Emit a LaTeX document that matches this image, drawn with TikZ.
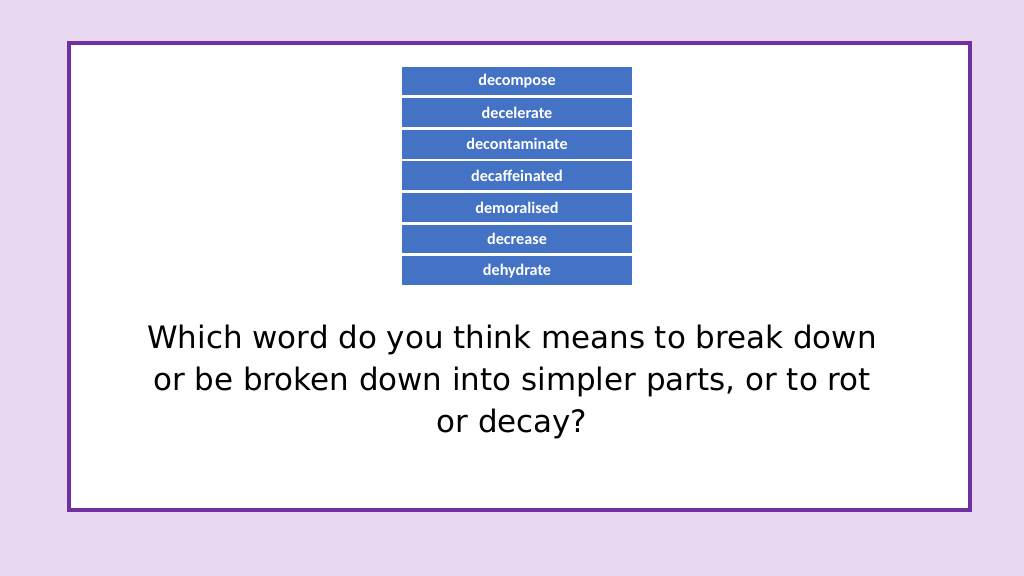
\documentclass[tikz,border=0pt]{standalone}
\usepackage{fontspec}
\setmainfont{DejaVu Sans}
\newfontfamily\cellfont{Carlito}
\usetikzlibrary{positioning}
\definecolor{lavender}{HTML}{E8D9F0}
\definecolor{framepurple}{HTML}{7030A0}
\definecolor{cellblue}{HTML}{4472C4}
\tikzset{
  cell/.style={draw=white,line width=1pt,fill=cellblue,text=white,minimum width=232*0.025cm,minimum height=30.2*0.025cm,inner sep=0pt,font=\cellfont\bfseries\fontsize{11.5}{14}\selectfont}
}
\begin{document}
\begin{tikzpicture}[x=0.025cm,y=-0.025cm]
	\fill[lavender] (0,0) rectangle (1024,576);
	\draw[framepurple,line width=3pt,fill=white] (69,43) rectangle (970,510);
	\node (w1) [cell] at (517,81) {decompose};
	\node (w2) [cell,below=0pt of w1] {decelerate};
	\node (w3) [cell,below=0pt of w2] {decontaminate};
	\node (w4) [cell,below=0pt of w3] {decaffeinated};
	\node (w5) [cell,below=0pt of w4] {demoralised};
	\node (w6) [cell,below=0pt of w5] {decrease};
	\node (w7) [cell,below=0pt of w6] {dehydrate};
	\node (q) [align=center,font=\fontsize{22}{30}\selectfont] at (512,382) {Which word do you think means to break down\\or be broken down into simpler parts, or to rot\\or decay?};
\end{tikzpicture}
\end{document}
